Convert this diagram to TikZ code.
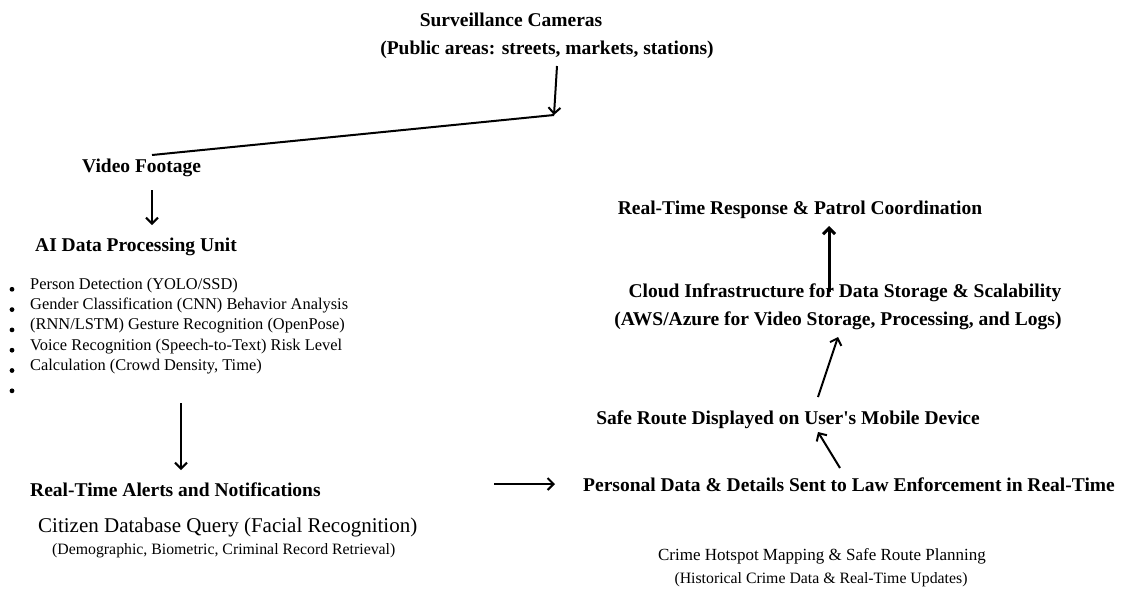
\documentclass[tikz,border=0pt]{standalone}
\usepackage{fontspec}
\setmainfont{Liberation Serif}[Ligatures=TeXOff]
\usetikzlibrary{arrows.meta}
\tikzset{
  headtext/.style={font=\fontsize{19.5}{23}\selectfont\bfseries, inner sep=0pt},
  listtext/.style={font=\fontsize{16.4}{20}\selectfont, inner sep=0pt},
  bigtext/.style={font=\fontsize{21}{25}\selectfont, inner sep=0pt},
  midtext/.style={font=\fontsize{17}{20}\selectfont, inner sep=0pt},
  smalltext/.style={font=\fontsize{15.8}{19}\selectfont, inner sep=0pt},
  flow/.style={line width=2pt, -{Straight Barb[length=6pt,width=12pt]}},
}
\begin{document}
\begin{tikzpicture}[x=1pt,y=-1pt]
\useasboundingbox (0,0) rectangle (1122,595);
% left column
\node[headtext,anchor=base] (cam) at (511,26) {Surveillance Cameras};
\node[headtext,anchor=base] (camsub) at (547,54) {(Public areas: streets, markets, stations)};
\node[headtext,anchor=base west] (video) at (82,172.5) {Video Footage};
\node[headtext,anchor=base west] (ai) at (35,251) {AI Data Processing Unit};
\foreach \t [count=\i] in {Person Detection (YOLO/SSD),
	Gender Classification (CNN) Behavior Analysis,
	(RNN/LSTM) Gesture Recognition (OpenPose),
	Voice Recognition (Speech-to-Text) Risk Level,
	{Calculation (Crowd Density, Time)}}
	\node[listtext,anchor=base west] (task\i) at (30,269.3+20.2*\i) {\t};
\foreach \i in {1,...,6}
	\fill (12,269+20.3*\i) circle (2.4pt);
\node[headtext,anchor=base west] (alert) at (30,496.5) {Real-Time Alerts and Notifications};
\node[bigtext,anchor=base west] (query) at (38,532) {Citizen Database Query (Facial Recognition)};
\node[smalltext,anchor=base west] (querysub) at (52,554.5) {(Demographic, Biometric, Criminal Record Retrieval)};
% right column
\node[headtext,anchor=base west] (police) at (583,491.5) {Personal Data \& Details Sent to Law Enforcement in Real-Time};
\node[midtext,anchor=base] (hotspot) at (822,560.5) {Crime Hotspot Mapping \& Safe Route Planning};
\node[smalltext,anchor=base] (hotspotsub) at (821,583.5) {(Historical Crime Data \& Real-Time Updates)};
\node[headtext,anchor=base] (route) at (788,424.5) {Safe Route Displayed on User's Mobile Device};
\node[headtext,anchor=base] (cloud) at (845,297.5) {Cloud Infrastructure for Data Storage \& Scalability};
\node[headtext,anchor=base] (cloudsub) at (838,325.5) {(AWS/Azure for Video Storage, Processing, and Logs)};
\node[headtext,anchor=base] (patrol) at (800,214.5) {Real-Time Response \& Patrol Coordination};
% arrow ends
\coordinate (camout) at (557,66);
\coordinate (bend) at (554,115);
\coordinate (videoin) at (152,155);
\coordinate (videoout) at (152,190);
\coordinate (aiin) at (152,225);
\coordinate (taskout) at (181,403);
\coordinate (alertin) at (181,470);
\coordinate (queryout) at (494,484);
\coordinate (policein) at (555,484);
\coordinate (policeout) at (840,468);
\coordinate (routein) at (818,432);
\coordinate (routeout) at (818,397);
\coordinate (cloudin) at (838,337);
\coordinate (cloudout) at (829,292);
\coordinate (patrolin) at (829,226);
\draw[flow] (camout) -- (bend);
\draw[line width=2pt] (bend) -- (videoin);
\draw[flow] (videoout) -- (aiin);
\draw[flow] (taskout) -- (alertin);
\draw[flow] (queryout) -- (policein);
\draw[flow] (policeout) -- (routein);
\draw[flow] (routeout) -- (cloudin);
\draw[flow,line width=3pt] (cloudout) -- (patrolin);
\end{tikzpicture}
\end{document}
